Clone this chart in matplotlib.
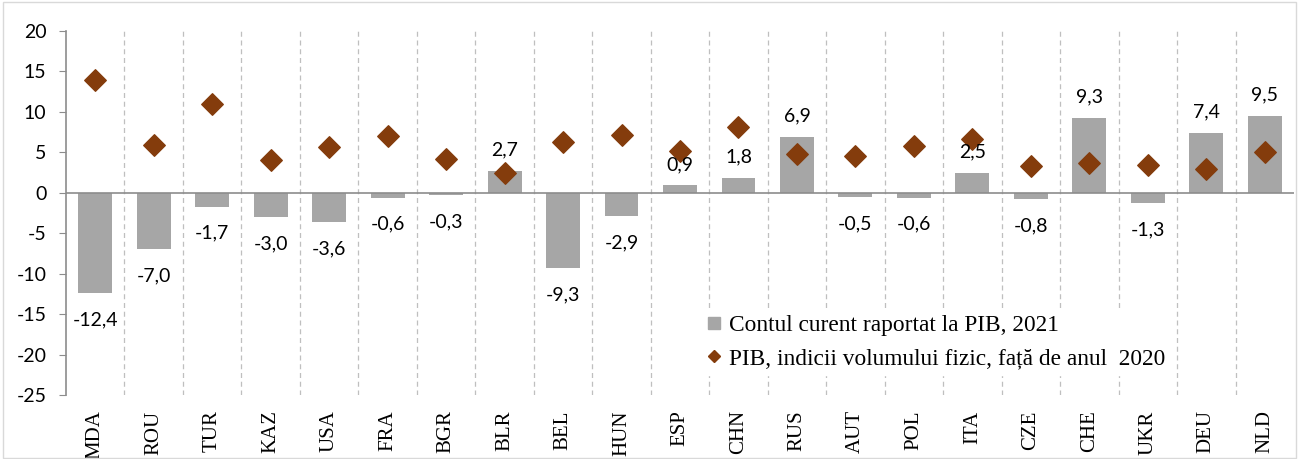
import matplotlib
matplotlib.use("Agg")
import matplotlib.pyplot as plt
import numpy as np
from matplotlib.patches import Rectangle
from matplotlib.lines import Line2D

countries = ["MDA", "ROU", "TUR", "KAZ", "USA", "FRA", "BGR", "BLR", "BEL", "HUN", "ESP",
             "CHN", "RUS", "AUT", "POL", "ITA", "CZE", "CHE", "UKR", "DEU", "NLD"]
current_account = [-12.4, -7.0, -1.7, -3.0, -3.6, -0.6, -0.3, 2.7, -9.3, -2.9, 0.9,
                   1.8, 6.9, -0.5, -0.6, 2.5, -0.8, 9.3, -1.3, 7.4, 9.5]
gdp_index = [13.9, 5.9, 11.0, 4.0, 5.7, 7.0, 4.2, 2.5, 6.3, 7.1, 5.2,
             8.1, 4.8, 4.5, 5.8, 6.7, 3.3, 3.7, 3.4, 2.9, 5.0]
yticks = [20, 15, 10, 5, 0, -5, -10, -15, -20, -25]
label_bar = "Contul curent raportat la PIB, 2021"
label_gdp = "PIB, indicii volumului fizic, față de anul  2020"

BAR = "#A6A6A6"
DIA = "#843C0C"
AXC = "#8C8C8C"

W, H = 1299, 459
fig = plt.figure(figsize=(W / 100, H / 100), dpi=100)
fig.patches.append(Rectangle((0.002, 0.002), 0.996, 0.994, transform=fig.transFigure,
                             fill=False, edgecolor="#D9D9D9", linewidth=1.0))
ax = fig.add_axes([66 / W, 1 - 395 / H, (1294 - 66) / W, (395 - 31) / H])

x = np.arange(len(countries))
ax.bar(x, current_account, width=0.58, color=BAR, zorder=2)
ax.scatter(x, gdp_index, marker="D", s=120, color=DIA, zorder=3)

ax.set_xlim(-0.5, len(countries) - 0.5)
ax.set_ylim(-25, 20)

for b in np.arange(0.5, len(countries) - 0.5, 1.0):
    ax.axvline(b, color="#BFBFBF", linestyle=(0, (4, 3)), linewidth=0.9, zorder=1)
ax.axhline(0, color=AXC, linewidth=1.2, zorder=2.5)

numfont = dict(family=["Lato", "DejaVu Sans"], fontsize=14, color="black")
for xi, v in zip(x, current_account):
    txt = f"{v:.1f}".replace(".", ",")
    if v >= 0:
        ax.annotate(txt, (xi, v), xytext=(0, 9), textcoords="offset points",
                    ha="center", va="bottom", zorder=4, **numfont)
    else:
        ax.annotate(txt, (xi, v), xytext=(0, -13), textcoords="offset points",
                    ha="center", va="top", zorder=4, **numfont)

ax.set_yticks(yticks)
ax.set_yticklabels([str(t) for t in yticks], fontfamily="Lato", fontsize=14)
ax.tick_params(axis="y", direction="out", length=5, color=AXC, pad=9)
ax.set_xticks(x)
ax.set_xticklabels(countries, rotation=90, fontfamily="Liberation Serif", fontsize=15)
ax.tick_params(axis="x", length=0, pad=11)

for s in ["top", "right", "bottom"]:
    ax.spines[s].set_visible(False)
ax.spines["left"].set_color(AXC)
ax.spines["left"].set_linewidth(1.2)

handles = [
    Line2D([], [], linestyle="none", marker="s", markersize=9, color=BAR),
    Line2D([], [], linestyle="none", marker="D", markersize=6.5, color=DIA),
]
leg = fig.legend(handles, [label_bar, label_gdp], loc="upper left",
                 bbox_to_anchor=(700 / W, 1 - 309 / H), frameon=True,
                 prop=dict(family="Liberation Serif", size=16.8),
                 handlelength=0.7, handletextpad=0.3, labelspacing=0.5,
                 borderpad=0.25, borderaxespad=0)
leg.get_frame().set_edgecolor("white")
leg.get_frame().set_facecolor("white")
leg.get_frame().set_alpha(1)
leg.set_zorder(5)

fig.savefig("out.png", dpi=100)
